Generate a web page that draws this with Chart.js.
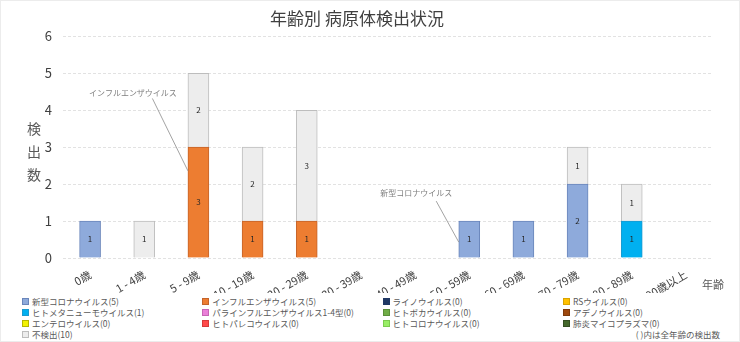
<!DOCTYPE html>
<html lang="ja">
<head>
<meta charset="utf-8">
<title>年齢別 病原体検出状況</title>
<script src="https://cdn.jsdelivr.net/npm/chart.js@4.4.1/dist/chart.umd.min.js"></script>
<style>
	body { margin: 0; background: #fff; font-family: "Noto Sans CJK JP", sans-serif; }
	#wrap { position: relative; width: 738px; height: 340px; border: 1px solid #ececec; }
	#mycanvas { position: absolute; left: 0; top: 0; }
	#legend { position: absolute; left: 21px; top: 295px; display: grid; grid-template-columns: repeat(4, 180.3px); font-size: 8.5px; line-height: 11px; color: #595959; }
	#legend span.box { display: inline-block; width: 5px; height: 5px; margin-right: 3px; border: 1px solid; vertical-align: 0px; }
	#note { position: absolute; right: 19px; top: 328px; font-size: 8.5px; line-height: 11px; color: #595959; }
</style>
</head>
<body>
<div id="wrap">
	<canvas id="mycanvas" width="738" height="292"></canvas>
	<div id="legend"></div>
	<div id="note">( )内は全年齢の検出数</div>
</div>
<script>
var ages = ['0歳', '1 - 4歳', '5 - 9歳', '10 - 19歳', '20 - 29歳', '30 - 39歳', '40 - 49歳', '50 - 59歳', '60 - 69歳', '70 - 79歳', '80 - 89歳', '90歳以上'];

var covid   = [1, 0, 0, 0, 0, 0, 0, 1, 1, 2, 0, 0];
var flu     = [0, 0, 3, 1, 1, 0, 0, 0, 0, 0, 0, 0];
var rhino   = [0, 0, 0, 0, 0, 0, 0, 0, 0, 0, 0, 0];
var rsv     = [0, 0, 0, 0, 0, 0, 0, 0, 0, 0, 0, 0];
var hmpv    = [0, 0, 0, 0, 0, 0, 0, 0, 0, 0, 1, 0];
var para    = [0, 0, 0, 0, 0, 0, 0, 0, 0, 0, 0, 0];
var boca    = [0, 0, 0, 0, 0, 0, 0, 0, 0, 0, 0, 0];
var adeno   = [0, 0, 0, 0, 0, 0, 0, 0, 0, 0, 0, 0];
var entero  = [0, 0, 0, 0, 0, 0, 0, 0, 0, 0, 0, 0];
var pareco  = [0, 0, 0, 0, 0, 0, 0, 0, 0, 0, 0, 0];
var hcov    = [0, 0, 0, 0, 0, 0, 0, 0, 0, 0, 0, 0];
var myco    = [0, 0, 0, 0, 0, 0, 0, 0, 0, 0, 0, 0];
var none    = [0, 1, 2, 2, 3, 0, 0, 0, 0, 1, 1, 0];

var yTicks = [0, 1, 2, 3, 4, 5, 6];

var FONT = '"Noto Sans CJK JP", sans-serif';

function series(label, data, bg, border) {
	return {
		label: label,
		data: data,
		backgroundColor: bg,
		borderColor: border,
		borderWidth: 1,
		barThickness: 21
	};
}

var datasets = [
	series('新型コロナウイルス', covid, '#8eaadb', '#6a86bb'),
	series('インフルエンザウイルス', flu, '#ed7d31', '#c5642a'),
	series('ライノウイルス', rhino, '#1f3864', '#1f3864'),
	series('RSウイルス', rsv, '#ffc000', '#d9a300'),
	series('ヒトメタニューモウイルス', hmpv, '#00b0f0', '#1a9ad0'),
	series('パラインフルエンザウイルス1-4型', para, '#ea7fd8', '#c765b5'),
	series('ヒトボカウイルス', boca, '#70ad47', '#5a8f39'),
	series('アデノウイルス', adeno, '#9e480e', '#7e390b'),
	series('エンテロウイルス', entero, '#f2f200', '#b5b500'),
	series('ヒトパレコウイルス', pareco, '#ff4a4a', '#d63a3a'),
	series('ヒトコロナウイルス', hcov, '#99ee66', '#7ccc4f'),
	series('肺炎マイコプラズマ', myco, '#44682c', '#344f22'),
	series('不検出', none, '#ededed', '#bdbdbd')
];

// callouts pointing at a bar segment: label centre and line ends in (category index, value)
var callouts = [
	{ text: 'インフルエンザウイルス', lx: 0.79, ly: 4.46, fx: 1.15, fy: 4.32, bar: 2, ty: 2.36 },
	{ text: '新型コロナウイルス', lx: 6.02, ly: 1.76, fx: 6.39, fy: 1.54, bar: 7, ty: 0.43 }
];

// numbers in the middle of each stacked segment
var segmentLabels = {
	id: 'segmentLabels',
	afterDatasetsDraw: function(chart) {
		var ctx = chart.ctx;
		ctx.save();
		ctx.font = '8px ' + FONT;
		ctx.fillStyle = '#262626';
		ctx.textAlign = 'center';
		ctx.textBaseline = 'middle';
		chart.data.datasets.forEach(function(ds, i) {
			var meta = chart.getDatasetMeta(i);
			meta.data.forEach(function(el, j) {
				if (!ds.data[j]) return;
				ctx.fillText(ds.data[j], el.x, (el.y + el.base) / 2);
			});
		});
		ctx.restore();
	}
};

var extras = {
	id: 'extras',
	afterDraw: function(chart) {
		var ctx = chart.ctx;
		var xs = chart.scales.x, ys = chart.scales.y;
		ctx.save();

		// vertical axis title
		ctx.font = '14px ' + FONT;
		ctx.fillStyle = '#595959';
		ctx.textAlign = 'center';
		ctx.textBaseline = 'middle';
		['検', '出', '数'].forEach(function(c, i) {
			ctx.fillText(c, 33, 128 + i * 23);
		});

		ctx.font = '11px ' + FONT;
		ctx.fillText('年齢', 712, 284);

		// callouts
		ctx.font = '8px ' + FONT;
		ctx.strokeStyle = '#8c8c8c';
		ctx.lineWidth = 0.8;
		callouts.forEach(function(c) {
			var el = chart.getDatasetMeta(0).data[c.bar];
			ctx.fillStyle = '#7f7f7f';
			ctx.fillText(c.text, xs.getPixelForValue(c.lx), ys.getPixelForValue(c.ly));
			ctx.beginPath();
			ctx.moveTo(xs.getPixelForValue(c.fx), ys.getPixelForValue(c.fy));
			ctx.lineTo(el.x - el.width / 2, ys.getPixelForValue(c.ty));
			ctx.stroke();
		});
		ctx.restore();
	}
};

var ctx = document.getElementById('mycanvas');

var barGraph = new Chart(ctx, {
	type: 'bar',
	data: {
		labels: ages,
		datasets: datasets
	},
	options: {
		responsive: false,
		animation: false,
		layout: { padding: { left: 0, right: 26, top: 0, bottom: 0 } },
		plugins: {
			legend: { display: false },
			tooltip: { enabled: false },
			title: {
				display: true,
				text: '年齢別 病原体検出状況',
				color: '#404040',
				font: { family: FONT, size: 17, weight: 'normal' },
				padding: { top: 7, bottom: 8 }
			}
		},
		scales: {
			x: {
				stacked: true,
				grid: { display: false },
				border: { display: false },
				ticks: {
					color: '#404040',
					font: { family: FONT, size: 11 },
					minRotation: 30,
					maxRotation: 30,
					autoSkip: false,
					padding: 2
				},
				afterFit: function(s) { s.height = 35; }
			},
			y: {
				stacked: true,
				min: yTicks[0],
				max: yTicks[yTicks.length - 1],
				afterBuildTicks: function(s) {
					s.ticks = yTicks.map(function(v) { return { value: v }; });
				},
				grid: { color: '#e2e2e2', drawTicks: false },
				border: { display: false, dash: [3, 2] },
				ticks: {
					color: '#404040',
					font: { family: FONT, size: 13 },
					padding: 11
				},
				afterFit: function(s) { s.width = 62; }
			}
		}
	},
	plugins: [segmentLabels, extras]
});

// legend laid out in four columns, totals summed from each series
var legend = document.getElementById('legend');
datasets.forEach(function(ds) {
	var total = ds.data.reduce(function(a, b) { return a + b; }, 0);
	var item = document.createElement('div');
	item.innerHTML = '<span class="box" style="background:' + ds.backgroundColor + ';border-color:' + ds.borderColor + '"></span>' + ds.label + '(' + total + ')';
	legend.appendChild(item);
});
</script>
</body>
</html>
